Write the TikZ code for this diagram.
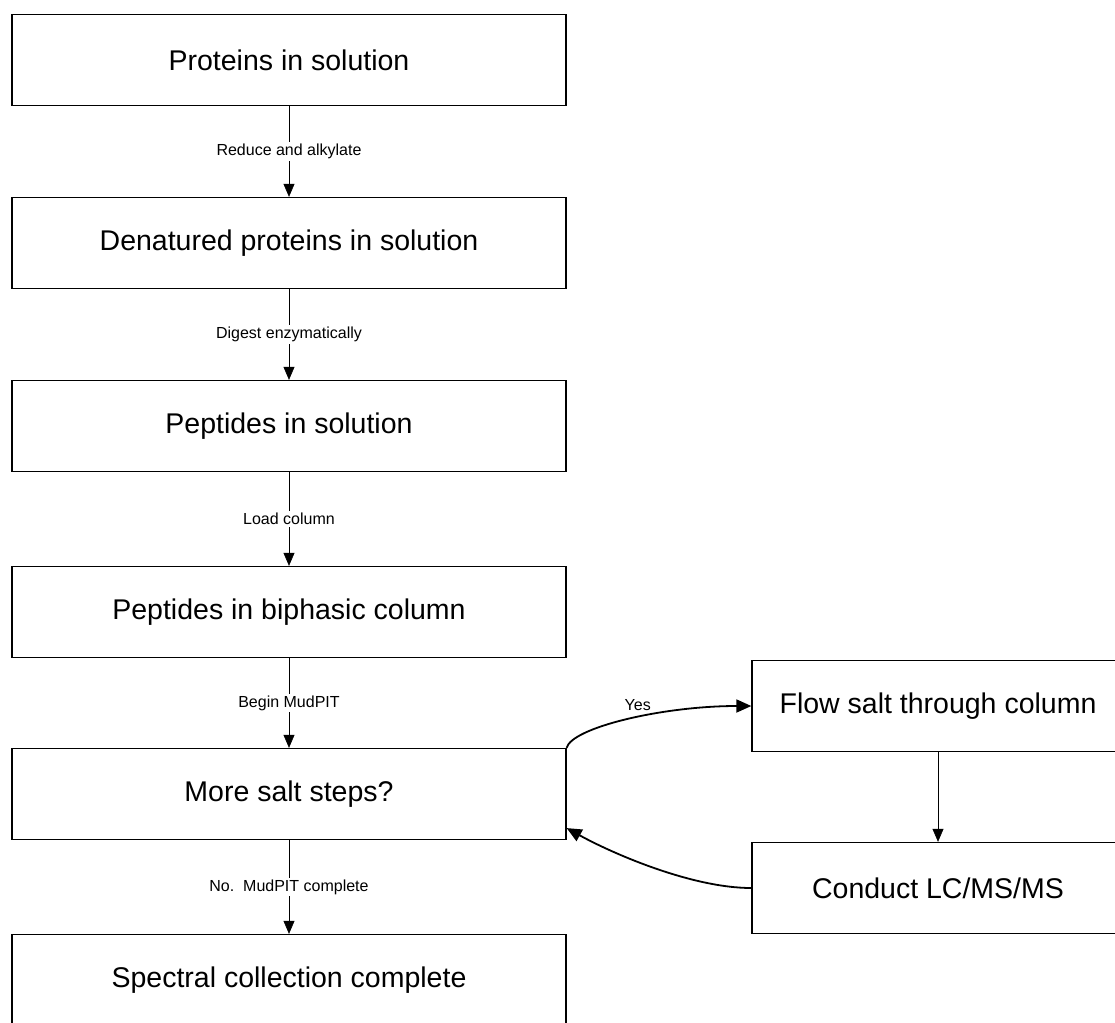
\documentclass[tikz,border=0pt]{standalone}
\usepackage{fontspec}
\setmainfont{Liberation Sans}
\usetikzlibrary{arrows.meta}
\tikzset{
  stepbox/.style={draw,line width=1.3pt,minimum width=554pt,minimum height=91pt,inner sep=0pt,font=\fontsize{28.5}{31}\selectfont},
  sidebox/.style={stepbox,minimum width=372pt},
  steplabel/.style={fill=white,inner sep=2pt,font=\fontsize{16}{18}\selectfont},
  flowarrow/.style={-{Triangle[width=11pt,length=13pt]},line width=0.6pt},
  looparrow/.style={-{Triangle[width=13pt,length=15pt]},line width=1.8pt},
}
\begin{document}
\begin{tikzpicture}[x=1pt,y=-1pt]
    \useasboundingbox (0,0) rectangle (1115,1022);
    % main steps
    \node[stepbox] (proteins) at (289,60) {Proteins in solution};
    \node[stepbox] (denatured) at (289,243) {Denatured proteins in solution};
    \node[stepbox] (peptides) at (289,426) {Peptides in solution};
    \node[stepbox] (column) at (289,612) {Peptides in biphasic column};
    \node[stepbox] (salt) at (289,794) {More salt steps?};
    \node[stepbox] (spectral) at (289,980) {Spectral collection complete};
    % salt loop
    \node[sidebox] (flowsalt) at (938,706) {Flow salt through column};
    \node[sidebox] (lcms) at (938,888) {Conduct LC/MS/MS};

    \draw[flowarrow] (proteins) -- node[steplabel]{Reduce and alkylate} (denatured);
    \draw[flowarrow] (denatured) -- node[steplabel]{Digest enzymatically} (peptides);
    \draw[flowarrow] (peptides) -- node[steplabel]{Load column} (column);
    \draw[flowarrow] (column) -- node[steplabel]{Begin MudPIT} (salt);
    \draw[flowarrow] (salt) -- node[steplabel]{No.\ \ MudPIT complete} (spectral);
    \draw[flowarrow] (flowsalt) -- (lcms);

    \draw[looparrow] (salt.north east) .. controls +(5,-20) and +(-90,0) .. node[pos=0.55,above,yshift=2pt,font=\fontsize{16}{18}\selectfont]{Yes} (flowsalt.west);
    \draw[looparrow] (lcms.west) .. controls +(-60,0) and +(45,25) .. (salt.-7);
\end{tikzpicture}
\end{document}
